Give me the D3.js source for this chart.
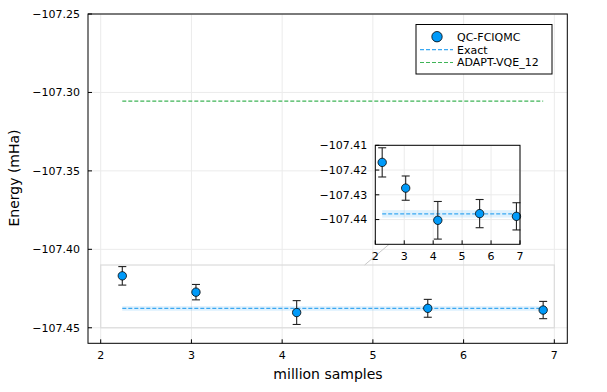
<!DOCTYPE html>
<html>
<head>
<meta charset="utf-8">
<script src="https://cdn.jsdelivr.net/npm/d3@7"></script>
<style>
  body { margin: 0; background: #fff; }
  text { font-family: 'DejaVu Sans', sans-serif; fill: #000; }
</style>
</head>
<body>
<div id="chart"></div>
<script>
// data
const samples = [2.238, 3.05, 4.16, 5.605, 6.877];
const energy = [-107.4169, -107.4273, -107.4403, -107.4376, -107.4387];
const energyErr = [0.0059, 0.0049, 0.0076, 0.0057, 0.0055];
const exactEnergy = -107.4377;
const exactBand = 0.0015;
const adaptEnergy = -107.3055;
const xTicks = [2, 3, 4, 5, 6, 7];
const yTicks = [-107.25, -107.30, -107.35, -107.40, -107.45];
const insetYTicks = [-107.41, -107.42, -107.43, -107.44];
const lensX = [2, 7];
const lensY = [-107.45, -107.41];
const legendLabels = ['QC-FCIQMC', 'Exact', 'ADAPT-VQE_12'];

const width = 607;
const height = 392;
const blue = '#009af9';
const exactColor = '#3aa8f2';
const adaptColor = '#3fb457';
const gridColor = '#ebebeb';

const points = samples.map((s, i) => ({ x: s, y: energy[i], e: energyErr[i] }));
const xSpan = d3.extent(samples);

const svg = d3.select('#chart').append('svg')
  .attr('width', width)
  .attr('height', height);

svg.append('rect').attr('width', width).attr('height', height).attr('fill', '#fff');

const fmt2 = d => d3.format('.2f')(d).replace('-', '\u2212');

function panel(g, xScale, yScale, yt, yFmt, fs) {
  const [x0, x1] = xScale.range();
  const [y0, y1] = yScale.range();

  // grid
  g.append('g').selectAll('line').data(xTicks).enter().append('line')
    .attr('x1', d => xScale(d)).attr('x2', d => xScale(d))
    .attr('y1', y1).attr('y2', y0)
    .attr('stroke', gridColor).attr('stroke-width', 1);
  g.append('g').selectAll('line').data(yt).enter().append('line')
    .attr('x1', x0).attr('x2', x1)
    .attr('y1', d => yScale(d)).attr('y2', d => yScale(d))
    .attr('stroke', gridColor).attr('stroke-width', 1);

  // ticks, inward
  g.append('g').selectAll('line').data(xTicks).enter().append('line')
    .attr('x1', d => xScale(d)).attr('x2', d => xScale(d))
    .attr('y1', y0).attr('y2', y0 - 4)
    .attr('stroke', '#000').attr('stroke-width', 1);
  g.append('g').selectAll('line').data(yt).enter().append('line')
    .attr('x1', x0).attr('x2', x0 + 4)
    .attr('y1', d => yScale(d)).attr('y2', d => yScale(d))
    .attr('stroke', '#000').attr('stroke-width', 1);

  // tick labels
  g.append('g').selectAll('text').data(xTicks).enter().append('text')
    .attr('x', d => xScale(d)).attr('y', y0 + 16)
    .attr('text-anchor', 'middle')
    .attr('font-size', fs)
    .text(d => d);
  g.append('g').selectAll('text').data(yt).enter().append('text')
    .attr('x', x0 - 8).attr('y', d => yScale(d))
    .attr('dy', '0.35em')
    .attr('text-anchor', 'end')
    .attr('font-size', fs)
    .text(yFmt);
}

function series(g, xScale, yScale, withAdapt) {
  // exact ribbon and line
  g.append('rect')
    .attr('x', xScale(xSpan[0]))
    .attr('width', xScale(xSpan[1]) - xScale(xSpan[0]))
    .attr('y', yScale(exactEnergy + exactBand))
    .attr('height', yScale(exactEnergy - exactBand) - yScale(exactEnergy + exactBand))
    .attr('fill', exactColor).attr('opacity', 0.16);
  g.append('line')
    .attr('x1', xScale(xSpan[0])).attr('x2', xScale(xSpan[1]))
    .attr('y1', yScale(exactEnergy)).attr('y2', yScale(exactEnergy))
    .attr('stroke', exactColor).attr('stroke-width', 1.2)
    .attr('stroke-dasharray', '4,2');

  if (withAdapt) {
    g.append('line')
      .attr('x1', xScale(xSpan[0])).attr('x2', xScale(xSpan[1]))
      .attr('y1', yScale(adaptEnergy)).attr('y2', yScale(adaptEnergy))
      .attr('stroke', adaptColor).attr('stroke-width', 1.2)
      .attr('stroke-dasharray', '4,2');
  }

  const eb = g.append('g').selectAll('g').data(points).enter().append('g')
    .attr('stroke', '#222').attr('stroke-width', 1.1);
  eb.append('line')
    .attr('x1', d => xScale(d.x)).attr('x2', d => xScale(d.x))
    .attr('y1', d => yScale(d.y + d.e)).attr('y2', d => yScale(d.y - d.e));
  eb.append('line')
    .attr('x1', d => xScale(d.x) - 4).attr('x2', d => xScale(d.x) + 4)
    .attr('y1', d => yScale(d.y + d.e)).attr('y2', d => yScale(d.y + d.e));
  eb.append('line')
    .attr('x1', d => xScale(d.x) - 4).attr('x2', d => xScale(d.x) + 4)
    .attr('y1', d => yScale(d.y - d.e)).attr('y2', d => yScale(d.y - d.e));

  g.append('g').selectAll('circle').data(points).enter().append('circle')
    .attr('cx', d => xScale(d.x)).attr('cy', d => yScale(d.y))
    .attr('r', 4.2)
    .attr('fill', blue).attr('stroke', '#000').attr('stroke-width', 0.8);
}

// main panel
const xScale = d3.scaleLinear().domain([1.86, 7.143]).range([88, 567.3]);
const yScale = d3.scaleLinear().domain([-107.4599, -107.25]).range([343.3, 14]);

const main = svg.append('g');
panel(main, xScale, yScale, yTicks, fmt2, 11);

// lens rectangle
main.append('rect')
  .attr('x', xScale(lensX[0])).attr('y', yScale(lensY[1]))
  .attr('width', xScale(lensX[1]) - xScale(lensX[0]))
  .attr('height', yScale(lensY[0]) - yScale(lensY[1]))
  .attr('fill', 'none').attr('stroke', '#dcdcdc').attr('stroke-width', 1.2);

series(main, xScale, yScale, true);

main.append('rect')
  .attr('x', 88).attr('y', 14).attr('width', 567.3 - 88).attr('height', 343.3 - 14)
  .attr('fill', 'none').attr('stroke', '#000').attr('stroke-width', 1);

// inset
const ixScale = d3.scaleLinear().domain([2, 7]).range([375.3, 520]);
const iyScale = d3.scaleLinear().domain([-107.45, -107.41]).range([244.3, 145.3]);

// connector from lens centre to inset centre, only between the two boxes
const lc = [xScale(d3.mean(lensX)), yScale(d3.mean(lensY))];
const ic = [d3.mean(ixScale.range()), d3.mean(iyScale.range())];
const tAt = y => (y - lc[1]) / (ic[1] - lc[1]);
const tA = tAt(yScale(lensY[1]));
const tB = tAt(iyScale.range()[0]);
main.append('line')
  .attr('x1', lc[0] + tA * (ic[0] - lc[0])).attr('y1', yScale(lensY[1]))
  .attr('x2', lc[0] + tB * (ic[0] - lc[0])).attr('y2', iyScale.range()[0])
  .attr('stroke', '#c8c8c8').attr('stroke-width', 1);

const inset = svg.append('g');
inset.append('rect')
  .attr('x', 375.3).attr('y', 145.3).attr('width', 520 - 375.3).attr('height', 244.3 - 145.3)
  .attr('fill', '#fff');
panel(inset, ixScale, iyScale, insetYTicks, fmt2, 11);
series(inset, ixScale, iyScale, false);
inset.append('rect')
  .attr('x', 375.3).attr('y', 145.3).attr('width', 520 - 375.3).attr('height', 244.3 - 145.3)
  .attr('fill', 'none').attr('stroke', '#000').attr('stroke-width', 1);

// axis titles
svg.append('text')
  .attr('x', 328).attr('y', 379)
  .attr('text-anchor', 'middle').attr('font-size', 14)
  .text('million samples');
svg.append('text')
  .attr('transform', 'translate(19,178) rotate(-90)')
  .attr('text-anchor', 'middle').attr('font-size', 14)
  .text('Energy (mHa)');

// legend
const legend = svg.append('g');
legend.append('rect')
  .attr('x', 416).attr('y', 24.5).attr('width', 136).attr('height', 49.5)
  .attr('fill', '#fff').attr('stroke', '#000').attr('stroke-width', 1);
const rowY = [36.7, 49.7, 62.5];
legend.append('circle')
  .attr('cx', 437).attr('cy', rowY[0]).attr('r', 5.2)
  .attr('fill', blue).attr('stroke', '#000').attr('stroke-width', 0.8);
[exactColor, adaptColor].forEach((c, i) => {
  legend.append('line')
    .attr('x1', 420).attr('x2', 453)
    .attr('y1', rowY[i + 1]).attr('y2', rowY[i + 1])
    .attr('stroke', c).attr('stroke-width', 1.2).attr('stroke-dasharray', '4,2');
});
legend.selectAll('text.lab').data(legendLabels).enter().append('text')
  .attr('x', 457).attr('y', (d, i) => rowY[i])
  .attr('dy', '0.35em').attr('font-size', 11)
  .text(d => d);
</script>
</body>
</html>
